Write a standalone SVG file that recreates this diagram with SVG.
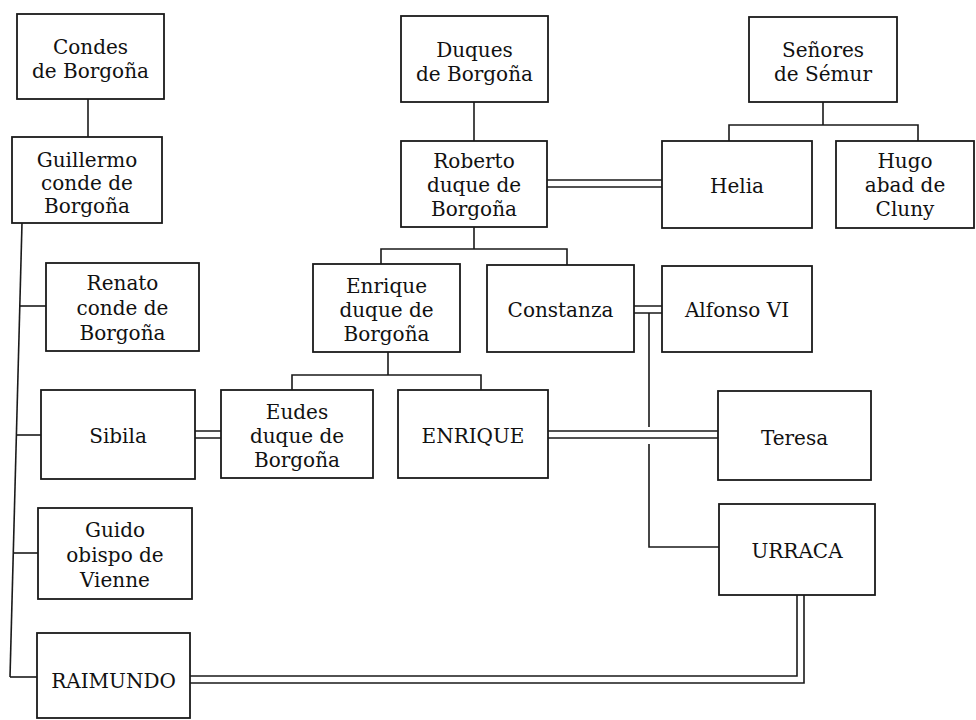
<svg xmlns="http://www.w3.org/2000/svg" width="976" height="720" viewBox="0 0 976 720">
<style>
.box{fill:#fff;stroke:#1a1a1a;stroke-width:1.8}
.ln{fill:none;stroke:#1a1a1a;stroke-width:1.6}
.t{font-family:"DejaVu Serif","Liberation Serif",serif;font-size:20px;fill:#111;text-anchor:middle}
</style>
<rect width="976" height="720" fill="#fff"/>
<g id="connectors">
<path class="ln" d="M88 99V137"/>
<path class="ln" d="M22 223L10 677"/>
<path class="ln" d="M19.8 306H46"/>
<path class="ln" d="M16.4 435H41"/>
<path class="ln" d="M13.3 553H38"/>
<path class="ln" d="M10 677H37"/>
<path class="ln" d="M474 102V141"/>
<path class="ln" d="M547 180H662M547 187H662"/>
<path class="ln" d="M823 102V125M729 141V125H918V141"/>
<path class="ln" d="M474 227V249M381 264V249H567V265"/>
<path class="ln" d="M634 306H662M634 313H662"/>
<path class="ln" d="M649 313V427M649 444V547H719"/>
<path class="ln" d="M388 352V375M292 390V375H481V390"/>
<path class="ln" d="M195 431H221M195 438H221"/>
<path class="ln" d="M548 431H718M548 438H718"/>
<path class="ln" d="M190 676H797V595M190 683H804V595"/>
</g>
<g class="t">
<g id="condes"><rect class="box" x="17" y="14" width="147" height="85"/><text class="t" x="90.5" y="54">Condes</text><text class="t" x="90.5" y="78">de Borgoña</text></g>
<g id="guillermo"><rect class="box" x="12" y="137" width="150" height="86"/><text class="t" x="87" y="167">Guillermo</text><text class="t" x="87" y="190">conde de</text><text class="t" x="87" y="213">Borgoña</text></g>
<g id="renato"><rect class="box" x="46" y="263" width="153" height="88"/><text class="t" x="122.5" y="290">Renato</text><text class="t" x="122.5" y="315">conde de</text><text class="t" x="122.5" y="340">Borgoña</text></g>
<g id="sibila"><rect class="box" x="41" y="390" width="154" height="89"/><text class="t" x="118" y="443">Sibila</text></g>
<g id="guido"><rect class="box" x="38" y="508" width="154" height="91"/><text class="t" x="115" y="537">Guido</text><text class="t" x="115" y="562">obispo de</text><text class="t" x="115" y="587">Vienne</text></g>
<g id="raimundo"><rect class="box" x="37" y="633" width="153" height="85"/><text class="t" x="113.5" y="688">RAIMUNDO</text></g>
<g id="duques"><rect class="box" x="401" y="16" width="147" height="86"/><text class="t" x="474.5" y="57">Duques</text><text class="t" x="474.5" y="81">de Borgoña</text></g>
<g id="roberto"><rect class="box" x="401" y="141" width="146" height="86"/><text class="t" x="474" y="168">Roberto</text><text class="t" x="474" y="192">duque de</text><text class="t" x="474" y="216">Borgoña</text></g>
<g id="senores"><rect class="box" x="749" y="17" width="148" height="85"/><text class="t" x="823" y="57">Señores</text><text class="t" x="823" y="81">de Sémur</text></g>
<g id="helia"><rect class="box" x="662" y="141" width="150" height="87"/><text class="t" x="737" y="193">Helia</text></g>
<g id="hugo"><rect class="box" x="836" y="141" width="138" height="87"/><text class="t" x="905" y="168">Hugo</text><text class="t" x="905" y="192">abad de</text><text class="t" x="905" y="216">Cluny</text></g>
<g id="enrique-duque"><rect class="box" x="313" y="264" width="147" height="88"/><text class="t" x="386.5" y="293">Enrique</text><text class="t" x="386.5" y="317">duque de</text><text class="t" x="386.5" y="341">Borgoña</text></g>
<g id="constanza"><rect class="box" x="487" y="265" width="147" height="87"/><text class="t" x="560.5" y="317">Constanza</text></g>
<g id="alfonso"><rect class="box" x="662" y="266" width="150" height="86"/><text class="t" x="737" y="317">Alfonso VI</text></g>
<g id="eudes"><rect class="box" x="221" y="390" width="152" height="88"/><text class="t" x="297" y="419">Eudes</text><text class="t" x="297" y="443">duque de</text><text class="t" x="297" y="467">Borgoña</text></g>
<g id="enrique"><rect class="box" x="398" y="390" width="150" height="88"/><text class="t" x="473" y="443">ENRIQUE</text></g>
<g id="teresa"><rect class="box" x="718" y="391" width="153" height="89"/><text class="t" x="794.5" y="445">Teresa</text></g>
<g id="urraca"><rect class="box" x="719" y="504" width="156" height="91"/><text class="t" x="797" y="558">URRACA</text></g>
</g>
</svg>
